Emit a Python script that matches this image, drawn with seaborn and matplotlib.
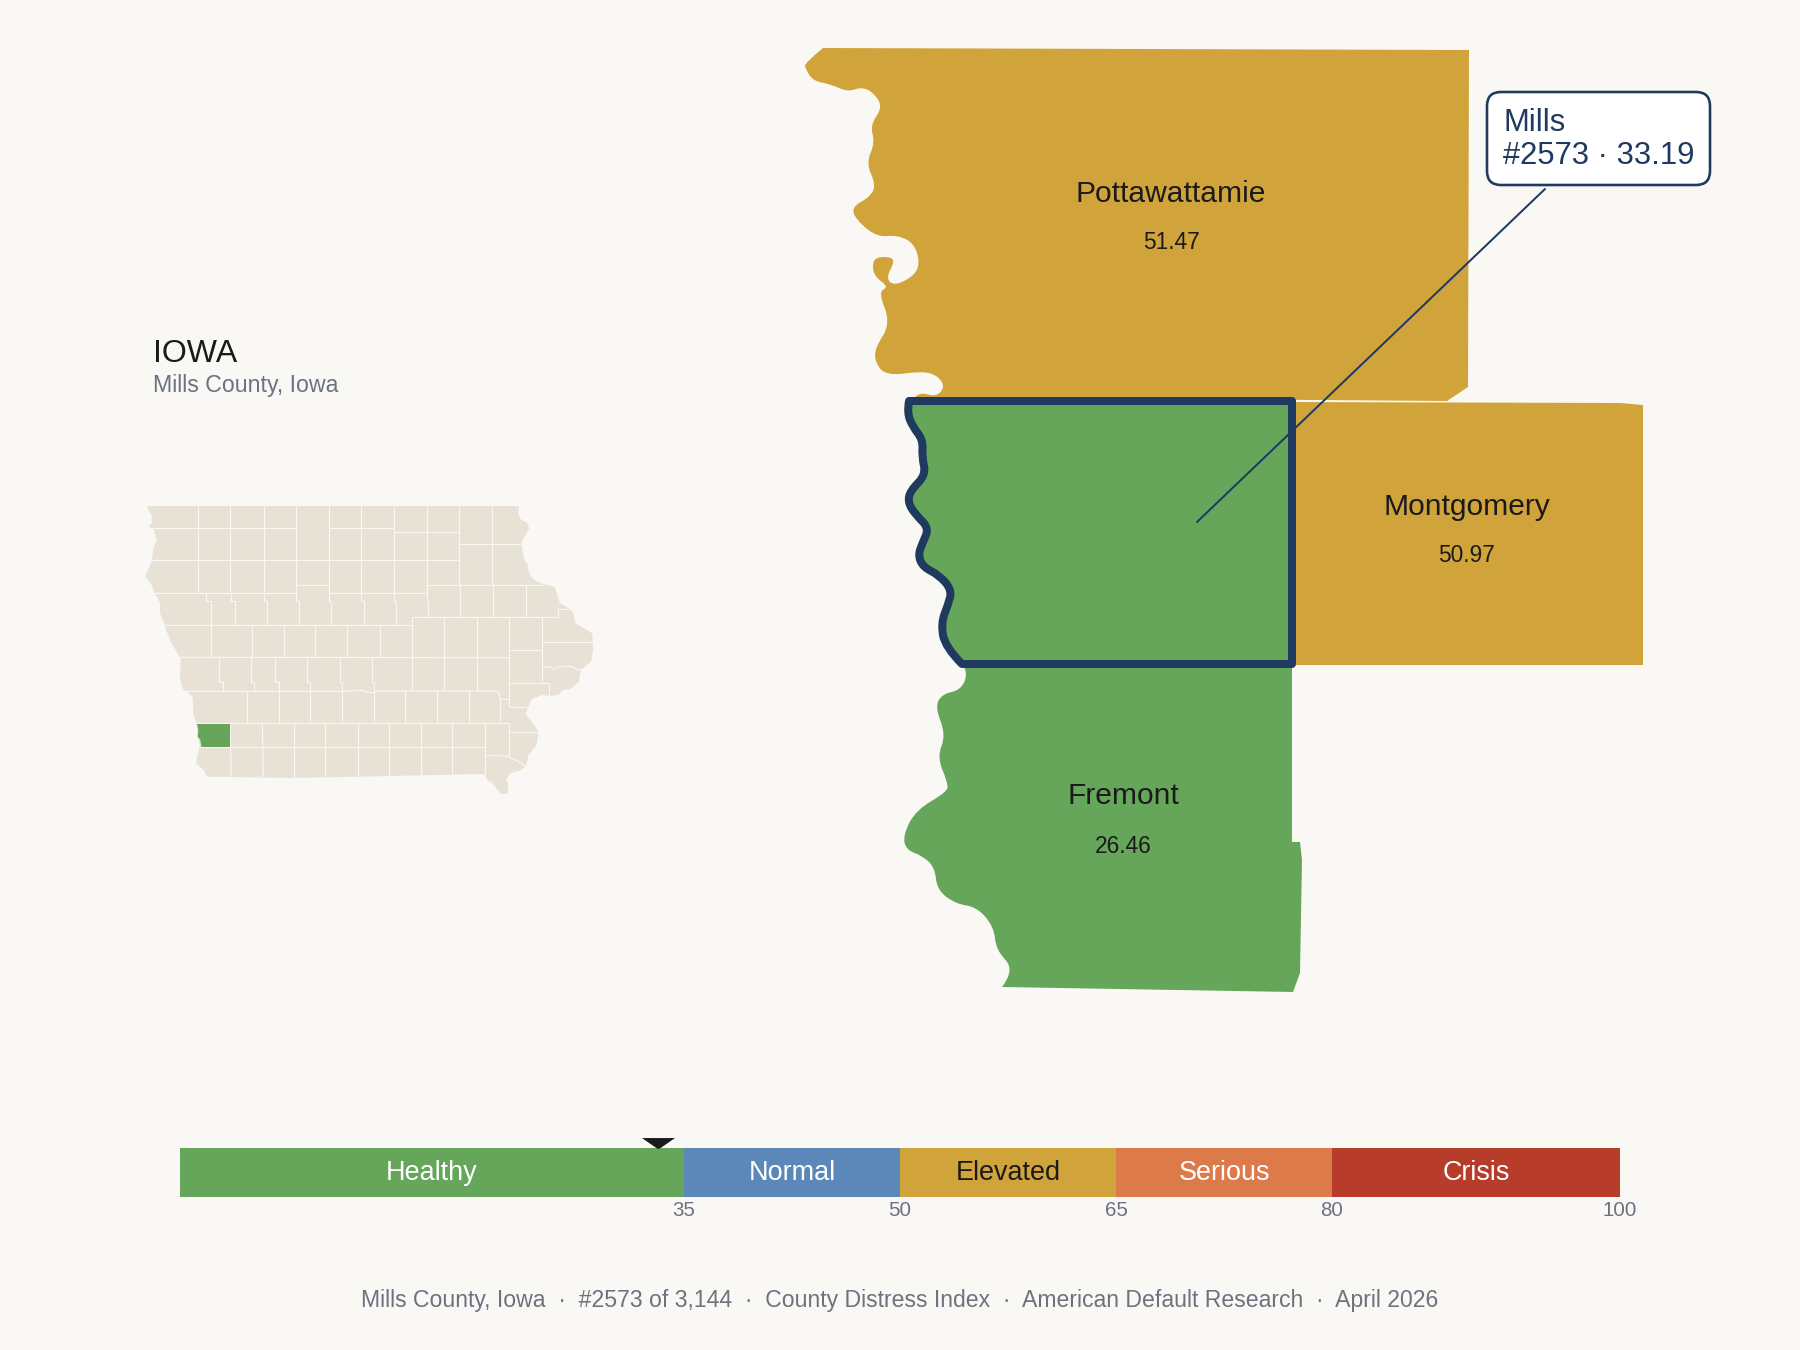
#! /usr/bin/env python3
import seaborn as sns
import matplotlib.pyplot as plt
from matplotlib.collections import LineCollection
from matplotlib.patches import FancyBboxPatch, PathPatch, Polygon
from matplotlib.path import Path

BG = "#FAF8F4"
LAND = "#E8E2D6"
NAVY = "#1F3A5F"
INK = "#1A1A1A"
GREY = "#6B7280"

# band scale
BAND_NAMES = ["Healthy", "Normal", "Elevated", "Serious", "Crisis"]
BAND_LOWER = [0, 35, 50, 65, 80]
BAND_UPPER = [35, 50, 65, 80, 100]
BAND_COLOURS = ["#66A65A", "#5B88B8", "#D1A43B", "#DC7A4A", "#B83C2A"]
BAND_TEXT = ["white", "white", INK, "white", "white"]
SCALE_TICKS = [35, 50, 65, 80, 100]
MILLS_SCORE = 33.19

# neighbour labels, baselines in picture pixels
COUNTY_NAMES = ["Pottawattamie", "Montgomery", "Fremont"]
COUNTY_SCORES = ["51.47", "50.97", "26.46"]
COUNTY_LABEL_X = [1171, 1467, 1123]
COUNTY_LABEL_Y = [201.7, 515, 804.3]
COUNTY_SCORE_Y = [249.3, 562.3, 852.7]

# main map outlines, in picture pixels
POTTAWATTAMIE_RIVER = [
    (823, 48), (805, 63), (805, 68), (813, 81), (830, 84), (848, 92), (861, 87), (873, 92),
    (883, 107), (870, 125), (875, 143), (866, 163), (876, 185), (870, 197), (850, 208),
    (860, 224), (878, 237), (897, 235), (914, 243), (920, 263), (914, 276), (894, 286),
    (886, 278), (894, 263), (892, 257), (876, 257), (872, 265), (875, 277), (889, 287),
    (878, 292), (891, 323), (875, 348), (875, 362), (886, 376), (923, 371), (938, 376),
    (945, 387), (936, 397), (920, 392), (915, 397),
]
POTTAWATTAMIE_CORNERS = [(1447, 401), (1468, 387), (1469, 50)]
MONTGOMERY_CORNERS = [(1293, 402), (1620, 403), (1643, 405), (1643, 665), (1293, 665)]
FREMONT_RIVER = [
    (1002, 987), (1015, 970), (996, 950), (994, 927), (977, 907), (956, 904), (937, 890),
    (935, 868), (923, 856), (906, 850), (903, 835), (916, 810), (947, 792), (948, 783),
    (937, 757), (946, 735), (935, 707), (942, 694), (961, 690), (968, 673), (963, 665),
]
FREMONT_CORNERS = [(1292, 666), (1292, 842), (1300, 842), (1302, 860), (1300, 973), (1293, 992)]
MILLS_RIVER = [
    (909, 401), (907, 413), (913, 427), (923, 440), (922, 457), (926, 475), (910, 491),
    (908, 503), (916, 515), (929, 528), (923, 542), (918, 555), (923, 567), (939, 575),
    (952, 590), (948, 605), (941, 623), (945, 647), (962, 664),
]
MILLS_CORNERS = [(1292, 664), (1292, 401)]

# callout
CALLOUT_LINES = ["Mills", "#2573 \u00b7 33.19"]
CALLOUT_BASELINES = [131, 164]
LEADER_X = [1545, 1197]
LEADER_Y = [189, 522]

FOOTER = ("Mills County, Iowa  \u00b7  #2573 of 3,144  \u00b7  County Distress Index  \u00b7  "
          "American Default Research  \u00b7  April 2026")

# state inset, in units of the 1440x960 crop
STATE_OUTLINE = [
    (52, 48), (1167, 48), (1165, 70), (1172, 88), (1190, 97), (1198, 115), (1178, 150), (1175, 165),
    (1183, 210), (1192, 220), (1197, 250), (1210, 268), (1232, 280), (1275, 292), (1283, 318),
    (1290, 340), (1322, 358), (1332, 375), (1335, 398), (1380, 425), (1387, 432), (1390, 480),
    (1383, 515), (1352, 540), (1347, 575), (1320, 598), (1298, 600), (1285, 615), (1260, 618),
    (1235, 615), (1205, 628), (1195, 650), (1187, 672), (1205, 695), (1225, 725), (1220, 765),
    (1195, 795), (1188, 828), (1170, 842), (1140, 850), (1128, 870), (1135, 885), (1133, 912),
    (1112, 912), (1088, 880), (1072, 870), (1062, 852), (600, 862), (490, 864), (230, 860),
    (222, 840), (198, 820), (208, 775), (210, 770), (203, 740), (200, 700), (190, 675), (190, 655),
    (187, 620), (172, 605), (160, 600), (150, 565), (152, 505), (145, 495), (125, 460), (108, 420),
    (105, 405), (90, 370), (90, 340), (75, 310), (62, 280), (45, 260), (65, 215), (70, 175),
    (80, 150), (70, 115), (55, 110), (65, 100), (65, 75), (52, 55),
]
MILLS_INSET = [(201, 702), (300, 702), (300, 771), (214, 771), (211, 750), (203, 740), (205, 720)]
COUNTY_LINES = [
    # north block
    [(203, 48), (203, 307)], [(301, 48), (301, 307)], [(401, 48), (401, 307)], [(498, 48), (498, 310)],
    [(596, 48), (596, 310)], [(694, 48), (694, 310)], [(793, 48), (793, 310)], [(890, 48), (890, 310)],
    [(988, 48), (988, 286)], [(1087, 48), (1087, 286)],
    [(50, 114), (498, 114)], [(596, 114), (793, 114)], [(793, 127), (988, 127)], [(988, 162), (1180, 162)],
    [(50, 211), (988, 211)], [(498, 286), (596, 286)], [(890, 286), (1240, 286)],
    [(60, 308), (498, 308)], [(596, 310), (890, 310)],
    # second block, lines step at the correction line
    [(228, 308), (228, 333), (243, 333), (243, 502)], [(302, 308), (302, 333), (316, 333), (316, 405)],
    [(401, 308), (401, 333), (412, 333), (412, 405)], [(498, 308), (498, 333), (508, 333), (508, 405)],
    [(596, 310), (596, 333), (604, 333), (604, 405)], [(694, 310), (694, 333), (701, 333), (701, 405)],
    [(793, 310), (793, 333), (797, 333), (797, 405)], [(890, 310), (890, 333), (895, 333), (895, 382)],
    [(990, 286), (990, 382)], [(1088, 286), (1088, 382)], [(1187, 286), (1187, 382)],
    [(845, 382), (1283, 382), (1283, 358), (1330, 358)], [(95, 405), (845, 405)],
    # third block
    [(365, 405), (365, 502)], [(461, 405), (461, 502)], [(556, 405), (556, 502)], [(652, 405), (652, 502)],
    [(749, 405), (749, 502)], [(845, 382), (845, 603)], [(943, 382), (943, 603)], [(1040, 382), (1040, 603)],
    [(1138, 382), (1138, 650)], [(1235, 382), (1235, 578)], [(140, 502), (1138, 503)],
    [(1138, 480), (1235, 480)], [(1235, 457), (1395, 457)],
    [(1235, 530), (1262, 531), (1272, 538), (1285, 530), (1330, 530), (1340, 540), (1355, 538)],
    [(1138, 578), (1258, 578), (1258, 620)],
    # fourth block
    [(266, 502), (266, 575), (280, 575), (280, 603)], [(364, 502), (364, 575), (373, 575), (373, 603)],
    [(436, 502), (436, 575), (446, 575), (446, 603)], [(532, 502), (532, 575), (539, 575), (539, 603)],
    [(629, 502), (629, 575), (635, 575), (635, 603)], [(726, 502), (726, 575), (731, 575), (731, 610)],
    [(170, 604), (630, 604), (700, 601), (710, 606), (730, 609), (735, 603), (1100, 603), (1108, 610), (1110, 628), (1138, 628)],
    # fifth block
    [(350, 604), (350, 698)], [(446, 604), (446, 698)], [(539, 604), (539, 698)], [(635, 604), (635, 698)],
    [(731, 604), (731, 698)], [(825, 604), (825, 698)], [(920, 604), (920, 698)], [(1017, 604), (1017, 698)],
    [(1110, 628), (1110, 698)], [(185, 699), (1136, 699)], [(1138, 650), (1200, 650)],
    # south block
    [(300, 700), (304, 862)], [(397, 700), (400, 862)], [(491, 700), (491, 865)], [(586, 700), (586, 862)],
    [(683, 700), (683, 862)], [(778, 700), (778, 860)], [(873, 700), (873, 858)], [(967, 700), (967, 856)],
    [(1064, 700), (1064, 856)], [(1136, 699), (1136, 798)], [(1136, 725), (1230, 725)],
    [(205, 772), (1064, 772)], [(1064, 796), (1130, 798), (1160, 812), (1190, 830)],
]


def river_path(river, corners):
    # smooth through the river bend points, straight along the survey lines
    verts = [river[0]]
    codes = [Path.MOVETO]
    for i in range(1, len(river) - 1):
        nxt = river[i + 1]
        if i < len(river) - 2:
            nxt = ((river[i][0] + nxt[0]) / 2, (river[i][1] + nxt[1]) / 2)
        verts += [river[i], nxt]
        codes += [Path.CURVE3, Path.CURVE3]
    for c in corners:
        verts.append(c)
        codes.append(Path.LINETO)
    verts.append(river[0])
    codes.append(Path.CLOSEPOLY)
    return Path(verts, codes)


def px(size):
    return size * 0.72


def main():
    sns.set_theme(style='white')
    plt.rcParams['font.family'] = ['Liberation Sans', 'DejaVu Sans']
    plt.rcParams['savefig.facecolor'] = BG

    f = plt.figure(figsize=(18, 13.5), dpi=100, facecolor=BG)

    # MAIN MAP
    ax = f.add_axes([0, 0, 1, 1])
    ax.set_xlim(0, 1800)
    ax.set_ylim(1350, 0)
    ax.axis('off')
    gold = BAND_COLOURS[2]
    green = BAND_COLOURS[0]
    ax.add_patch(PathPatch(river_path(POTTAWATTAMIE_RIVER, POTTAWATTAMIE_CORNERS), fc=gold, lw=0))
    ax.add_patch(Polygon(MONTGOMERY_CORNERS, closed=True, fc=gold, lw=0))
    ax.add_patch(PathPatch(river_path(FREMONT_RIVER, FREMONT_CORNERS), fc=green, lw=0))
    ax.add_patch(PathPatch(river_path(MILLS_RIVER, MILLS_CORNERS), fc=green, ec=NAVY,
                           lw=px(8), joinstyle='round', zorder=3))

    for name, score, x, y, y2 in zip(COUNTY_NAMES, COUNTY_SCORES, COUNTY_LABEL_X, COUNTY_LABEL_Y, COUNTY_SCORE_Y):
        ax.text(x, y, name, ha='center', va='baseline', fontsize=px(30), color=INK, zorder=5)
        ax.text(x, y2, score, ha='center', va='baseline', fontsize=px(22.8), color=INK, zorder=5)

    # callout
    ax.plot(LEADER_X, LEADER_Y, color=NAVY, lw=px(2), zorder=4, solid_capstyle='round')
    ax.add_patch(FancyBboxPatch((1487, 92), 223, 93, boxstyle='round,pad=0,rounding_size=14',
                                fc='white', ec=NAVY, lw=px(2.6), zorder=6))
    for line, base in zip(CALLOUT_LINES, CALLOUT_BASELINES):
        ax.text(1503, base, line, ha='left', va='baseline', fontsize=px(31), color=NAVY, zorder=7)

    # titles
    ax.text(153, 362, "IOWA", ha='left', va='baseline', fontsize=px(32), color=INK)
    ax.text(153, 391.7, "Mills County, Iowa", ha='left', va='baseline', fontsize=px(23.1), color=GREY)
    ax.text(900, 1306.7, FOOTER, ha='center', va='baseline', fontsize=px(23), color=GREY)

    # STATE INSET
    inset = f.add_axes([130 / 1800, 1 - 810 / 1350, 480 / 1800, 320 / 1350])
    inset.set_xlim(0, 1440)
    inset.set_ylim(960, 0)
    inset.axis('off')
    inset.patch.set_alpha(0)
    state = Polygon(STATE_OUTLINE, closed=True, fc=LAND, lw=0)
    inset.add_patch(state)
    borders = LineCollection(COUNTY_LINES, colors=BG, linewidths=px(1.1), zorder=2)
    inset.add_collection(borders)
    borders.set_clip_path(state)
    inset.add_patch(Polygon(MILLS_INSET, closed=True, fc=green, lw=0, zorder=3))

    # SCALE BAR, painted from the top band down so each one covers the last
    scale = f.add_axes([180 / 1800, 1 - 1197 / 1350, 1440 / 1800, 49 / 1350])
    for upper, colour in zip(BAND_UPPER[::-1], BAND_COLOURS[::-1]):
        sns.barplot(x=[upper], y=[""], color=colour, saturation=1, width=1, orient='h',
                    linewidth=0, ax=scale)
    scale.set_xlim(0, 100)
    scale.set_ylim(0.5, -0.5)
    scale.patch.set_alpha(0)
    sns.despine(ax=scale, left=True, bottom=True)
    scale.set_yticks([])
    scale.set_ylabel('')
    scale.set_xticks(SCALE_TICKS)
    scale.tick_params(axis='x', length=0, pad=px(4), labelsize=px(20.5), labelcolor=GREY)
    for name, low, high, colour in zip(BAND_NAMES, BAND_LOWER, BAND_UPPER, BAND_TEXT):
        scale.text((low + high) / 2, 0.153, name, ha='center', va='baseline', fontsize=px(27), color=colour)

    # pointer sits just above the bar, wide side up
    pointer = Path([(-1, 0.33), (1, 0.33), (0.12, -0.28), (0, -0.33), (-0.12, -0.28), (-1, 0.33)])
    sns.scatterplot(x=[MILLS_SCORE], y=[-0.61], marker=pointer, s=(px(33)) ** 2, color=INK,
                    linewidth=0, clip_on=False, ax=scale, legend=False)
    scale.set_xlabel('')
    scale.set_xlim(0, 100)
    scale.set_ylim(0.5, -0.5)

    f.savefig("out.png", dpi=100, facecolor=BG)


if __name__ == "__main__":
    main()
